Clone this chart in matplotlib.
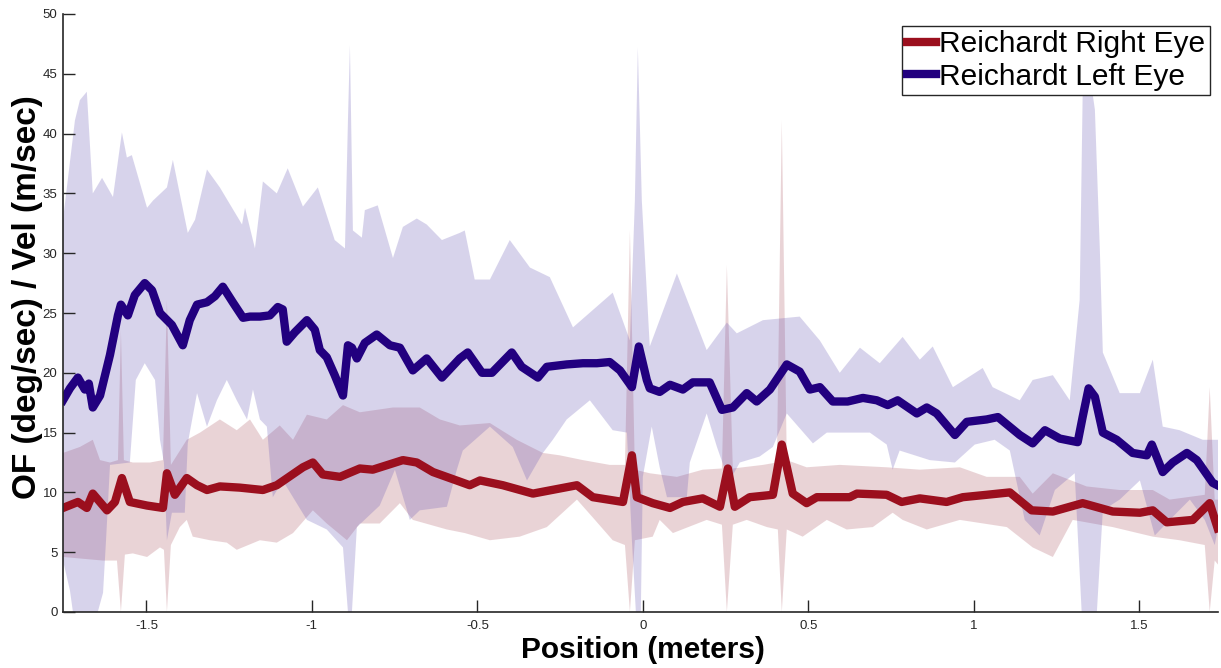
import numpy as np
import matplotlib.pyplot as plt

plt.rcParams['font.family'] = ['Liberation Sans', 'DejaVu Sans']

# mean optic flow / velocity, right eye (red) and left eye (blue)
red_x = [-1.752,-1.707,-1.680,-1.662,-1.619,-1.595,-1.574,-1.550,-1.498,-1.450,
         -1.438,-1.414,-1.378,-1.347,-1.317,-1.278,-1.218,-1.148,-1.106,-1.027,
         -0.997,-0.967,-0.915,-0.855,-0.816,-0.725,-0.683,-0.634,-0.553,-0.523,
         -0.492,-0.423,-0.332,-0.199,-0.151,-0.060,-0.033,-0.018,0.030,0.082,
         0.121,0.181,0.233,0.257,0.278,0.323,0.393,0.420,0.453,0.495,
         0.526,0.625,0.647,0.737,0.782,0.837,0.918,0.967,1.039,1.109,
         1.175,1.239,1.329,1.420,1.502,1.541,1.583,1.662,1.713,1.737]
red_y = [8.7,9.2,8.7,9.9,8.5,9.2,11.2,9.2,8.9,8.7,
         11.6,9.8,11.2,10.6,10.2,10.5,10.4,10.2,10.6,12.1,
         12.5,11.5,11.3,12.0,11.9,12.7,12.5,11.7,10.9,10.6,
         11.0,10.6,9.9,10.6,9.6,9.2,13.1,9.6,9.1,8.7,
         9.2,9.5,8.8,12.0,8.8,9.6,9.8,14.0,9.9,9.1,
         9.6,9.6,9.9,9.8,9.2,9.5,9.2,9.6,9.8,10.0,
         8.5,8.4,9.1,8.4,8.3,8.5,7.5,7.7,9.1,7.0]

blue_x = [-1.752,-1.731,-1.707,-1.686,-1.674,-1.662,-1.640,-1.610,-1.586,-1.577,
          -1.556,-1.535,-1.505,-1.483,-1.459,-1.423,-1.390,-1.369,-1.347,-1.317,
          -1.293,-1.269,-1.239,-1.208,-1.187,-1.157,-1.127,-1.103,-1.088,-1.076,
          -1.051,-1.015,-0.991,-0.976,-0.955,-0.931,-0.906,-0.891,-0.879,-0.864,
          -0.840,-0.804,-0.764,-0.734,-0.695,-0.653,-0.607,-0.553,-0.529,-0.486,
          -0.456,-0.396,-0.366,-0.317,-0.290,-0.230,-0.181,-0.139,-0.100,-0.069,
          -0.033,-0.012,0.012,0.021,0.051,0.082,0.121,0.151,0.202,0.239,
          0.272,0.314,0.344,0.384,0.435,0.474,0.505,0.535,0.574,0.619,
          0.665,0.707,0.740,0.770,0.828,0.858,0.888,0.943,0.979,1.039,
          1.073,1.139,1.178,1.215,1.260,1.314,1.329,1.347,1.366,1.390,
          1.432,1.480,1.523,1.538,1.571,1.601,1.644,1.674,1.722,1.743]
blue_y = [17.7,18.7,19.6,18.6,19.1,17.1,18.1,21.5,24.8,25.7,
          24.8,26.5,27.5,26.9,25.0,24.0,22.3,24.4,25.7,25.9,
          26.4,27.2,25.9,24.6,24.7,24.7,24.8,25.5,25.3,22.6,
          23.4,24.4,23.6,21.9,21.3,19.8,18.1,22.3,22.1,21.2,
          22.5,23.2,22.3,22.1,20.2,21.2,19.6,21.2,21.7,20.0,
          20.0,21.7,20.5,19.6,20.5,20.7,20.8,20.8,20.9,20.2,
          18.8,22.2,19.4,18.7,18.4,19.0,18.6,19.2,19.2,16.9,
          17.1,18.3,17.6,18.6,20.7,20.1,18.6,18.8,17.6,17.6,
          17.9,17.7,17.3,17.7,16.6,17.1,16.6,14.8,15.9,16.1,
          16.3,14.8,14.1,15.2,14.5,14.2,16.3,18.7,18.0,15.0,
          14.4,13.3,13.1,14.0,11.7,12.5,13.3,12.7,10.8,10.5]

# shaded spread, upper and lower edges
red_up_x = [-1.752,-1.701,-1.662,-1.640,-1.610,-1.586,-1.577,-1.568,-1.541,-1.489,
            -1.450,-1.438,-1.426,-1.378,-1.338,-1.278,-1.227,-1.187,-1.148,-1.097,
            -1.057,-1.015,-0.955,-0.906,-0.855,-0.755,-0.674,-0.613,-0.553,-0.462,
            -0.381,-0.302,-0.251,-0.181,-0.100,-0.054,-0.039,-0.024,0.021,0.103,
            0.181,0.239,0.254,0.272,0.363,0.405,0.420,0.435,0.495,0.595,
            0.737,0.837,0.958,1.039,1.139,1.178,1.239,1.341,1.441,1.541,
            1.592,1.698,1.713,1.728,1.743]
red_up_y = [13.3,13.8,14.4,12.7,12.5,12.7,23.6,12.7,12.5,12.5,
            12.7,26.1,12.3,14.4,15.0,16.1,15.2,16.1,14.4,15.6,
            14.4,16.5,16.1,17.3,16.7,17.1,17.1,16.1,15.6,15.8,
            14.4,13.3,13.1,12.7,12.3,12.3,31.9,11.9,11.6,11.3,
            11.9,12.0,29.0,12.0,12.3,12.5,41.1,12.7,12.1,12.3,
            12.1,11.9,12.1,11.3,11.3,9.9,11.6,10.5,10.2,10.2,
            9.4,9.8,18.8,9.4,9.4]
red_lo_x = [-1.752,-1.631,-1.589,-1.577,-1.565,-1.541,-1.498,-1.459,-1.447,-1.438,
            -1.426,-1.399,-1.378,-1.360,-1.308,-1.257,-1.227,-1.157,-1.106,-1.057,
            -0.997,-0.955,-0.894,-0.855,-0.795,-0.734,-0.695,-0.592,-0.538,-0.462,
            -0.372,-0.290,-0.199,-0.151,-0.091,-0.054,-0.039,-0.024,0.030,0.051,
            0.091,0.193,0.239,0.254,0.272,0.314,0.375,0.408,0.420,0.435,
            0.483,0.556,0.616,0.695,0.755,0.785,0.858,0.958,1.100,1.178,
            1.239,1.299,1.420,1.541,1.622,1.698,1.713,1.728,1.743]
red_lo_y = [4.6,4.3,4.3,0.0,4.8,4.9,4.6,5.4,5.2,0.0,
            5.6,7.1,7.7,6.3,6.0,5.8,5.2,6.0,5.8,6.6,
            8.5,7.4,6.0,7.4,7.4,9.1,7.7,6.9,6.6,6.0,
            6.3,7.1,9.4,7.9,6.0,5.6,0.0,6.0,6.3,7.7,
            6.6,7.7,7.3,0.0,7.3,7.7,7.1,6.9,0.0,6.9,
            6.3,7.7,6.9,7.1,8.3,7.7,6.9,7.7,7.1,5.4,
            4.6,7.7,7.1,6.3,6.0,5.6,0.0,4.3,3.8]

blue_up_x = [-1.752,-1.716,-1.701,-1.680,-1.662,-1.634,-1.601,-1.574,-1.559,-1.544,
             -1.498,-1.480,-1.438,-1.420,-1.375,-1.353,-1.317,-1.278,-1.211,-1.202,
             -1.172,-1.148,-1.106,-1.073,-1.027,-0.982,-0.931,-0.900,-0.891,-0.885,
             -0.876,-0.849,-0.840,-0.801,-0.755,-0.725,-0.683,-0.653,-0.607,-0.553,
             -0.538,-0.508,-0.462,-0.402,-0.341,-0.281,-0.211,-0.091,-0.039,-0.024,
             -0.015,-0.003,0.021,0.103,0.193,0.254,0.284,0.363,0.474,0.535,
             0.595,0.656,0.716,0.785,0.837,0.876,0.937,1.027,1.057,1.139,
             1.178,1.239,1.290,1.320,1.329,1.347,1.366,1.381,1.390,1.441,
             1.502,1.541,1.571,1.622,1.692,1.743]
blue_up_y = [32.8,41.1,42.8,43.5,35.0,36.3,34.7,40.1,38.0,38.2,
             33.8,34.4,35.5,37.8,31.7,32.8,37.0,35.5,32.4,33.8,
             30.4,36.0,35.0,37.1,33.9,35.5,31.1,30.4,41.1,47.4,
             31.9,31.3,33.6,34.0,29.6,32.2,32.9,32.4,31.1,31.7,
             31.9,27.8,27.8,31.1,28.8,28.0,23.8,26.7,22.7,34.4,
             47.2,34.4,22.2,28.3,21.9,24.2,23.3,24.4,24.7,22.7,
             20.0,22.1,20.8,23.0,21.1,22.2,18.8,20.4,18.8,17.7,
             19.4,19.8,17.7,26.1,43.2,45.7,42.0,30.3,21.7,18.3,
             18.3,21.1,15.5,15.2,14.4,14.4]
blue_lo_x = [-1.752,-1.731,-1.722,-1.647,-1.631,-1.622,-1.610,-1.550,-1.532,-1.505,
             -1.474,-1.459,-1.447,-1.438,-1.423,-1.384,-1.375,-1.347,-1.317,-1.287,
             -1.257,-1.227,-1.196,-1.178,-1.157,-1.136,-1.118,-1.088,-1.015,-0.955,
             -0.906,-0.891,-0.879,-0.864,-0.795,-0.749,-0.704,-0.674,-0.592,-0.562,
             -0.544,-0.462,-0.393,-0.350,-0.302,-0.272,-0.230,-0.160,-0.091,-0.048,
             -0.033,-0.021,-0.006,0.000,0.027,0.051,0.073,0.133,0.142,0.193,
             0.224,0.248,0.263,0.293,0.353,0.393,0.435,0.514,0.556,0.616,
             0.686,0.737,0.755,0.776,0.867,0.943,1.003,1.063,1.109,1.154,
             1.199,1.245,1.305,1.326,1.372,1.390,1.441,1.502,1.547,1.592,
             1.653,1.698,1.728,1.743]
blue_lo_y = [4.3,1.8,0.0,0.0,1.6,6.0,12.3,12.5,19.4,20.8,
             19.4,14.4,12.5,6.0,8.3,8.3,14.1,18.3,15.5,17.7,
             19.4,17.7,16.1,18.6,16.1,15.5,9.6,11.0,7.7,6.9,
             5.4,0.0,0.0,7.1,8.9,11.9,7.7,8.5,8.8,11.9,
             13.5,15.5,13.8,11.0,13.3,14.4,16.1,17.7,15.2,15.0,
             6.0,0.0,0.0,11.3,15.5,12.1,9.6,9.6,12.5,16.6,
             13.8,11.9,11.0,12.5,13.0,13.8,16.6,14.1,15.0,15.0,
             15.0,14.0,11.9,13.5,12.7,12.5,14.0,14.4,13.5,7.7,
             6.4,10.2,11.6,0.0,0.0,8.5,9.4,11.0,6.4,7.7,
             9.4,7.7,5.6,7.7]

xticks = [-1.5, -1, -0.5, 0, 0.5, 1, 1.5]
xtick_labels = ['-1.5', '-1', '-0.5', '0', '0.5', '1', '1.5']

red_line = '#9b0f1e'
blue_line = '#22007f'

fig = plt.figure(figsize=(12.21, 6.68), dpi=100)
ax = fig.add_axes([63/1221, 1-612/668, 1155/1221, 598/668])

# shaded bands drawn as polygons (upper edge, then lower edge reversed)
ax.fill(np.concatenate([red_up_x, red_lo_x[::-1]]),
        np.concatenate([red_up_y, red_lo_y[::-1]]),
        color=(171/255, 83/255, 95/255), alpha=0.25, lw=0)
ax.fill(np.concatenate([blue_up_x, blue_lo_x[::-1]]),
        np.concatenate([blue_up_y, blue_lo_y[::-1]]),
        color=(99/255, 83/255, 179/255), alpha=0.25, lw=0)

ax.plot(red_x, red_y, color=red_line, lw=6, solid_joinstyle='round',
        label='Reichardt Right Eye')
ax.plot(blue_x, blue_y, color=blue_line, lw=6, solid_joinstyle='round',
        label='Reichardt Left Eye')

ax.set_xlim(-1.752, 1.738)
ax.set_ylim(0, 50)
ax.set_xticks(xticks)
ax.set_xticklabels(xtick_labels)
ax.set_yticks(np.arange(0, 51, 5))
ax.tick_params(direction='in', length=8.5, width=1, labelsize=9.5,
               colors='#262626')
ax.tick_params(axis='y', pad=4)
ax.tick_params(axis='x', pad=6)
for s in ['top', 'right']:
    ax.spines[s].set_visible(False)
for s in ['left', 'bottom']:
    ax.spines[s].set_color('#262626')
    ax.spines[s].set_linewidth(1.2)

ax.set_xlabel('Position (meters)', fontsize=21.5, fontweight='bold')
ax.set_ylabel('OF (deg/sec) / Vel (m/sec)', fontsize=24, fontweight='bold')
ax.xaxis.set_label_coords(0.502, -0.040)
ax.yaxis.set_label_coords(-0.0175, 0.527)

leg = ax.legend(loc='upper right', bbox_to_anchor=(0.9931, 0.980),
                borderaxespad=0, fontsize=21.5, handlelength=1.0,
                handletextpad=0.1, borderpad=0.15, labelspacing=0.15,
                fancybox=False, framealpha=1, edgecolor='#262626')
leg.get_frame().set_linewidth(1)

fig.savefig('out.png', dpi=100)
